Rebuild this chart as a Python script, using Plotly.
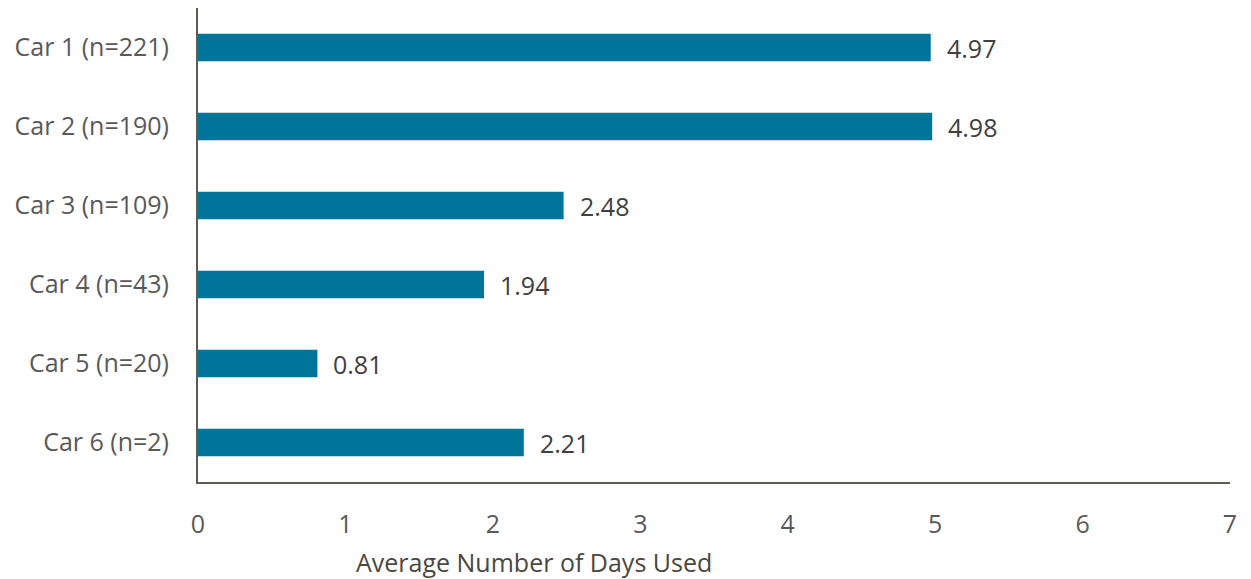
import plotly.graph_objects as go

# Chart data
cars = ['Car 1 (n=221)', 'Car 2 (n=190)', 'Car 3 (n=109)',
        'Car 4 (n=43)', 'Car 5 (n=20)', 'Car 6 (n=2)']
avg_days = [4.97, 4.98, 2.48, 1.94, 0.81, 2.21]
x_ticks = [0, 1, 2, 3, 4, 5, 6, 7]

bar_color = '#00759a'
axis_color = '#5f5b50'
font_family = 'Open Sans, sans-serif'
font_size = 25

fig = go.Figure()

fig.add_trace(go.Bar(
    x=avg_days,
    y=cars,
    orientation='h',
    width=0.35,
    marker=dict(color=bar_color, line=dict(width=0)),
    hoverinfo='x+y',
))

# value labels next to the bars
for car, val in zip(cars, avg_days):
    fig.add_annotation(
        x=val, y=car, xref='x', yref='y',
        text=f'{val:.2f}', showarrow=False,
        xanchor='left', xshift=14,
        font=dict(family=font_family, size=font_size, color='#404040'),
    )

# axis title sits left of the plot centre in the original
fig.add_annotation(
    x=2.28, y=-0.169, xref='x', yref='paper',
    text='Average Number of Days Used', showarrow=False,
    xanchor='center', yanchor='middle',
    font=dict(family=font_family, size=font_size, color='#4a4840'),
)

fig.update_layout(
    width=1251,
    height=579,
    margin=dict(l=198, r=21, t=8, b=97),
    paper_bgcolor='white',
    plot_bgcolor='white',
    showlegend=False,
    font=dict(family=font_family, size=font_size, color='#595959'),
    xaxis=dict(
        range=[0, 7],
        tickvals=x_ticks,
        showgrid=False,
        zeroline=False,
        showline=True,
        linecolor=axis_color,
        linewidth=2,
        ticks='',
        ticklabelstandoff=19,
        tickfont=dict(family=font_family, size=font_size, color='#595959'),
    ),
    yaxis=dict(
        categoryorder='array',
        categoryarray=cars[::-1],
        range=[-0.5, 5.5],
        showgrid=False,
        zeroline=False,
        showline=True,
        linecolor=axis_color,
        linewidth=2,
        ticks='',
        ticklabelstandoff=22,
        tickfont=dict(family=font_family, size=font_size, color='#595959'),
    ),
)

# drop the default body margin so the figure fills the window exactly
fig.write_html('out.html', config={'displayModeBar': False},
               post_script="document.body.style.margin='0';")
